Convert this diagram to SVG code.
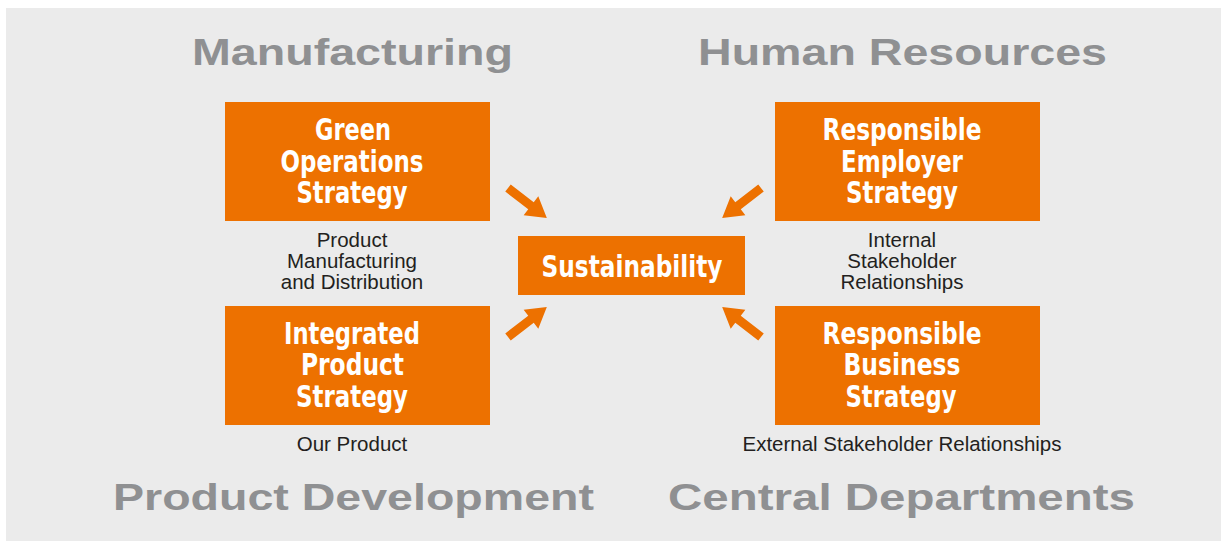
<svg xmlns="http://www.w3.org/2000/svg" width="1221" height="541" viewBox="0 0 1221 541">
  <style>
    .box { fill: #ED7100; }
    .bt { font-family: "Liberation Sans Narrow", "DejaVu Sans Condensed", "Liberation Sans", sans-serif; font-stretch: condensed; font-weight: bold; font-size: 30px; fill: #ffffff; text-anchor: middle; }
    .sub { font-family: "Liberation Sans", Arial, sans-serif; font-size: 20.5px; fill: #231f20; text-anchor: middle; }
    .head { font-family: "Liberation Sans", Arial, sans-serif; font-weight: bold; font-size: 37px; fill: #8f9092; }
    .arrow { fill: #ED7100; }
  </style>
  <defs>
    <polygon id="arr" points="0,-4.5 29,-4.5 29,-12 49,0 29,12 29,4.5 0,4.5"/>
  </defs>
  <rect x="6" y="8" width="1215" height="533" fill="#EBEBEB"/>

  <g id="headings">
    <text class="head" x="192" y="65" textLength="321" lengthAdjust="spacingAndGlyphs">Manufacturing</text>
    <text class="head" x="698" y="65" textLength="409" lengthAdjust="spacingAndGlyphs">Human Resources</text>
    <text class="head" x="113" y="510" textLength="481" lengthAdjust="spacingAndGlyphs">Product Development</text>
    <text class="head" x="668" y="510" textLength="467" lengthAdjust="spacingAndGlyphs">Central Departments</text>
  </g>

  <g id="green-operations">
    <rect class="box" x="225" y="102" width="265" height="119"/>
    <text class="bt" x="353" y="140" textLength="76" lengthAdjust="spacingAndGlyphs">Green</text>
    <text class="bt" x="352" y="171.5" textLength="143" lengthAdjust="spacingAndGlyphs">Operations</text>
    <text class="bt" x="352" y="203" textLength="111" lengthAdjust="spacingAndGlyphs">Strategy</text>
    <text class="sub" x="352" y="246.5">Product</text>
    <text class="sub" x="352" y="268">Manufacturing</text>
    <text class="sub" x="352" y="289">and Distribution</text>
  </g>

  <g id="integrated-product">
    <rect class="box" x="225" y="306" width="265" height="119"/>
    <text class="bt" x="352" y="343.5" textLength="136" lengthAdjust="spacingAndGlyphs">Integrated</text>
    <text class="bt" x="352.5" y="375" textLength="103" lengthAdjust="spacingAndGlyphs">Product</text>
    <text class="bt" x="352" y="407" textLength="112" lengthAdjust="spacingAndGlyphs">Strategy</text>
    <text class="sub" x="352" y="451">Our Product</text>
  </g>

  <g id="responsible-employer">
    <rect class="box" x="775" y="102" width="265" height="119"/>
    <text class="bt" x="902" y="139.5" textLength="159" lengthAdjust="spacingAndGlyphs">Responsible</text>
    <text class="bt" x="902" y="171.5" textLength="122" lengthAdjust="spacingAndGlyphs">Employer</text>
    <text class="bt" x="902" y="203" textLength="112" lengthAdjust="spacingAndGlyphs">Strategy</text>
    <text class="sub" x="902" y="246.5">Internal</text>
    <text class="sub" x="902" y="268">Stakeholder</text>
    <text class="sub" x="902" y="289">Relationships</text>
  </g>

  <g id="responsible-business">
    <rect class="box" x="775" y="306" width="265" height="119"/>
    <text class="bt" x="902" y="343.5" textLength="159" lengthAdjust="spacingAndGlyphs">Responsible</text>
    <text class="bt" x="902" y="375" textLength="117" lengthAdjust="spacingAndGlyphs">Business</text>
    <text class="bt" x="901" y="407" textLength="111" lengthAdjust="spacingAndGlyphs">Strategy</text>
    <text class="sub" x="902" y="451">External Stakeholder Relationships</text>
  </g>

  <g id="sustainability">
    <rect class="box" x="518" y="236" width="227" height="59"/>
    <text class="bt" x="632" y="277" font-size="32" textLength="181" lengthAdjust="spacingAndGlyphs">Sustainability</text>
  </g>

  <g id="connectors" class="arrow">
    <use href="#arr" transform="translate(508,188) rotate(37.6)"/>
    <use href="#arr" transform="translate(761,188) rotate(142.4)"/>
    <use href="#arr" transform="translate(508,337) rotate(-37.6)"/>
    <use href="#arr" transform="translate(761,337) rotate(-142.4)"/>
  </g>
</svg>
